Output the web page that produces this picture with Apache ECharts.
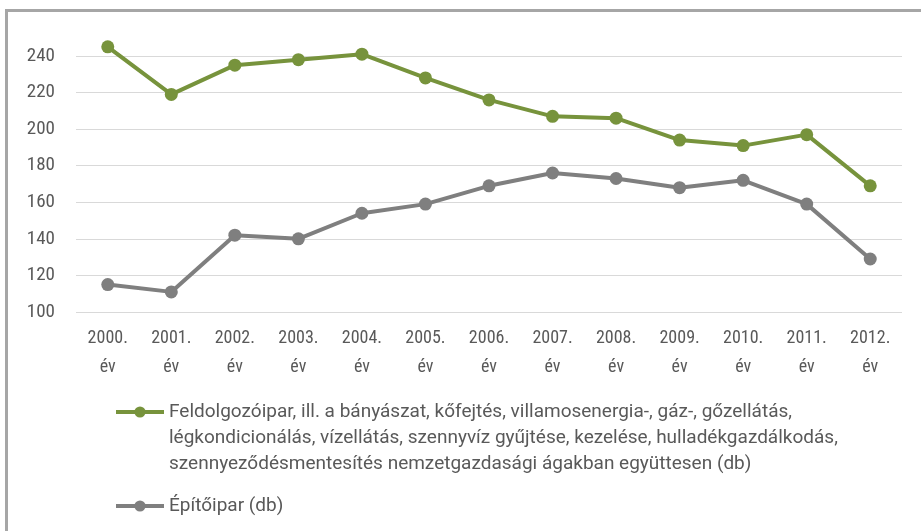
<!DOCTYPE html>
<html>
<head>
    <meta charset="utf-8"/>
    <title>Feldolgozóipar és építőipar</title>
    <script type="text/javascript" src="https://cdn.jsdelivr.net/npm/echarts@6/dist/echarts.min.js"></script>
    <style>
        html, body { margin: 0; padding: 0; background: #fff; }
        #frame { position: absolute; left: 5px; top: 9px; width: 930px; height: 540px;
                 border-left: 3px solid #a6a6a6; border-top: 3px solid #a6a6a6; }
        #main { position: absolute; left: 0; top: 0; width: 921px; height: 531px; }
    </style>
</head>
<body>
<div id="frame"></div>
<div id="main"></div>
<script type="text/javascript">
    // adatok
    var years = ['2000.\név', '2001.\név', '2002.\név', '2003.\név', '2004.\név', '2005.\név', '2006.\név',
        '2007.\név', '2008.\név', '2009.\név', '2010.\név', '2011.\név', '2012.\név'];
    var feldolgozo = [245, 219, 235, 238, 241, 228, 216, 207, 206, 194, 191, 197, 169];
    var epitoipar = [115, 111, 142, 140, 154, 159, 169, 176, 173, 168, 172, 159, 129];
    var nameFeld = 'Feldolgozóipar, ill. a bányászat, kőfejtés, villamosenergia-, gáz-, gőzellátás,\n' +
        'légkondicionálás, vízellátás, szennyvíz gyűjtése, kezelése, hulladékgazdálkodás,\n' +
        'szennyeződésmentesítés nemzetgazdasági ágakban együttesen (db)';
    var nameEpit = 'Építőipar (db)';

    var axisFont = '"Roboto Condensed", "Liberation Sans Narrow", Roboto, sans-serif';
    var legendFont = 'Roboto, "Liberation Sans", sans-serif';

    var myChart = echarts.init(document.getElementById('main'));
    var option = {
        animation: false,
        textStyle: { fontFamily: axisFont },
        grid: { left: 76, right: 19, top: 56, bottom: 219 },
        legend: {
            orient: 'vertical',
            left: 114,
            top: 347,
            padding: 0,
            itemWidth: 48,
            itemHeight: 14,
            itemGap: 16,
            lineStyle: { width: 4 },
            textStyle: { fontFamily: legendFont, fontSize: 19, color: '#595959', lineHeight: 26 },
            // két üres sor elöl, így az ikon az első sorral egy magasságban van
            formatter: function (name) {
                return name === nameFeld ? '\n\n' + name : name;
            },
            data: [nameFeld, nameEpit]
        },
        xAxis: {
            type: 'category',
            data: years,
            axisLine: { show: false },
            axisTick: { show: false },
            axisLabel: { color: '#595959', fontSize: 18, lineHeight: 29, margin: 12 }
        },
        yAxis: {
            type: 'value',
            min: 100,
            max: 240,
            interval: 20,
            axisLine: { show: false },
            axisTick: { show: false },
            axisLabel: { color: '#595959', fontSize: 19, margin: 21 },
            splitLine: { lineStyle: { color: '#d9d9d9', width: 1 } }
        },
        series: [
            {
                name: nameFeld,
                type: 'line',
                data: feldolgozo,
                clip: false,
                symbol: 'circle',
                symbolSize: 13,
                itemStyle: { color: '#77933c' },
                lineStyle: { color: '#77933c', width: 4 }
            },
            {
                name: nameEpit,
                type: 'line',
                data: epitoipar,
                clip: false,
                symbol: 'circle',
                symbolSize: 13,
                itemStyle: { color: '#7f7f7f' },
                lineStyle: { color: '#7f7f7f', width: 4 }
            }
        ]
    };
    myChart.setOption(option);
</script>
</body>
</html>
